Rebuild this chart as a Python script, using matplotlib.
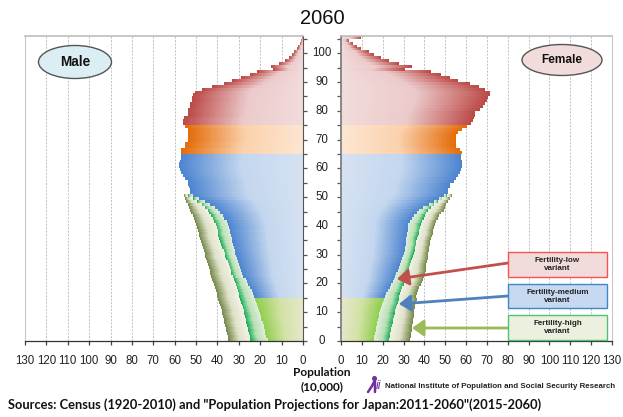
import matplotlib
matplotlib.use('Agg')
import matplotlib.pyplot as plt
import numpy as np
from matplotlib.colors import LinearSegmentedColormap
from matplotlib.patches import Ellipse, FancyArrowPatch, Rectangle

W, H = 623, 417

# population by age (10,000), index = age
male_low = [17, 17.3, 17.6, 18, 18.4, 18.8, 19.2, 19.6, 20, 20.4, 20.8, 21.2, 21.7, 22.2, 22.6,
            23, 23.6, 24.2, 24.9, 25.7, 26.5, 27.2, 27.9, 28.5, 29, 29.5, 30, 30.5, 31, 31.5,
            32, 32.3, 32.6, 32.9, 33.2, 33.5, 33.8, 34.2, 34.5, 34.8, 35, 35.8, 36.8, 38, 39,
            40, 41.5, 43.5, 46, 49, 52,
            53, 53, 53.5, 54, 54, 55, 56, 57, 57.5, 58, 58, 57.5, 57, 57,
            57, 57, 55, 55, 54, 54, 54, 54, 54, 55,
            56, 56, 55.5, 54, 54, 54, 53, 53, 52, 52, 51.5, 50.7, 47, 42.6, 37,
            33, 29, 25, 21.5, 14.2, 14.8, 11, 8.5, 6.5, 5, 4, 3, 2.3, 1.5, 1, 0.5]
male_medium = [25, 25.2, 25.5, 25.8, 26.1, 26.4, 26.7, 27, 27.3, 27.7, 28, 28.4, 28.8, 29.2, 29.6,
               30, 30.4, 30.8, 31.2, 31.6, 32, 32.5, 33, 33.5, 34, 34.4, 34.9, 35.4, 35.9, 36.4,
               37, 37.5, 38, 38.4, 38.8, 39.2, 39.6, 40, 40.3, 40.6, 41, 41.7, 42.4, 43.2, 44,
               45, 46.2, 47.5, 49.5, 51.5, 54]
male_high = [35, 35.3, 35.6, 35.9, 36.2, 36.5, 36.8, 37.1, 37.4, 37.7, 38, 38.4, 38.8, 39.2, 39.6,
             40, 40.4, 40.8, 41.2, 41.6, 42, 42.4, 42.9, 43.3, 43.7, 44, 44.4, 44.8, 45.2, 45.6,
             46, 46.4, 46.8, 47.2, 47.6, 48, 48.4, 48.8, 49.2, 49.6, 50, 50.5, 51, 51.6, 52.3,
             53, 53.5, 54, 54.6, 55.2, 55.7]
female_low = [15.7, 16, 16.3, 16.6, 16.9, 17.2, 17.5, 17.8, 18.1, 18.4, 18.7, 19.1, 19.5, 20, 20.5,
              21, 21.8, 22.6, 23.4, 24.2, 25, 25.5, 26, 26.6, 27.2, 27.8, 28.3, 28.8, 29.4, 29.9,
              30.4, 30.6, 30.8, 31, 31.2, 31.4, 31.6, 31.8, 32, 32.2, 32.3, 33, 34, 35.2, 36.4,
              37.6, 39.5, 42, 44.5, 47, 49.6,
              51, 51, 52, 52, 54, 55, 56, 57, 57.5, 58, 58, 58, 57.5, 57.5,
              58, 57, 55, 55, 55, 55, 55, 56, 58, 60,
              62, 63, 63.5, 64, 64, 66.5, 68, 69, 70, 70.5, 71, 71, 69, 66, 61.5,
              56, 52, 47.5, 42.7, 30.7, 34, 27.5, 23, 19, 15.5, 13, 9.5, 7.5, 5.5, 3.8, 9.4]
female_medium = [23, 23.3, 23.6, 23.9, 24.2, 24.5, 24.8, 25.1, 25.4, 25.7, 26, 26.4, 26.8, 27.2, 27.6,
                 28, 28.5, 29, 29.5, 30.1, 30.7, 31.2, 31.6, 32, 32.4, 32.8, 33.2, 33.6, 34, 34.5,
                 35, 35.3, 35.6, 35.9, 36.2, 36.5, 36.8, 37.2, 37.6, 38, 38.4, 39, 39.6, 40.2, 40.9,
                 41.6, 43, 44.6, 46.4, 48.6, 51]
female_high = [33, 33.2, 33.4, 33.6, 33.8, 34, 34.2, 34.4, 34.6, 34.8, 35, 35.2, 35.4, 35.6, 35.8,
               36, 36.5, 37, 37.6, 38.2, 38.7, 39.1, 39.4, 39.8, 40.2, 40.5, 40.8, 41, 41.2, 41.4,
               41.6, 41.9, 42.2, 42.5, 42.8, 43, 43.3, 43.6, 44, 44.4, 44.8, 45.4, 46, 46.8, 47.8,
               48.8, 49.5, 50.2, 51, 52, 53]

x_ticks = np.arange(0, 131, 10)
y_ticks = np.arange(0, 106, 5)
y_labels = np.arange(0, 101, 10)

LIGHT_GREEN = LinearSegmentedColormap.from_list('g', [(0, '#e6e8cc'), (0.5, '#d3e2a6'), (1, '#90cf4e')])
BLUE = LinearSegmentedColormap.from_list('b', [(0, '#d6e2f2'), (0.5, '#c4d7ef'), (1, '#4d85d0')])
ORANGE = LinearSegmentedColormap.from_list('o', [(0, '#fde6d2'), (0.5, '#fbd2ad'), (1, '#e46c0a')])
RED = LinearSegmentedColormap.from_list('r', [(0, '#f2dcdc'), (0.5, '#eccaca'), (1, '#bc4a48')])
MEDIUM = LinearSegmentedColormap.from_list('m', [(0, '#e0eeda'), (0.55, '#b8e0b5'), (1, '#14ad55')])
HIGH = LinearSegmentedColormap.from_list('h', [(0, '#f2f2e6'), (0.5, '#dfe2c8'), (1, '#74894a')])
GRAD = np.linspace(0, 1, 100).reshape(1, -1)


def age_cmap(age):
    if age < 15:
        return LIGHT_GREEN
    if age < 65:
        return BLUE
    if age < 75:
        return ORANGE
    return RED


def draw_side(ax, low, medium, high):
    for age, val in enumerate(low):
        ax.imshow(GRAD, cmap=age_cmap(age), extent=(0, val, age, age + 1), aspect='auto', vmin=0, vmax=1,
                  interpolation='nearest', zorder=2)
    for age in range(len(medium)):
        ax.imshow(GRAD, cmap=MEDIUM, extent=(low[age], medium[age], age, age + 1), aspect='auto', vmin=0, vmax=1,
                  interpolation='nearest', zorder=2)
        ax.imshow(GRAD, cmap=HIGH, extent=(medium[age], high[age], age, age + 1), aspect='auto', vmin=0, vmax=1,
                  interpolation='nearest', zorder=2)
    ax.set_ylim(0, 106)
    ax.set_xticks(x_ticks)
    ax.set_yticks(y_ticks)
    ax.set_yticklabels([])
    ax.grid(axis='x', color='#c0c0c0', linestyle=(0, (2, 1.5)), linewidth=0.7, zorder=1)
    ax.set_axisbelow(True)
    ax.tick_params(axis='x', length=3, width=0.9, color='#404040', labelsize=8.3, labelcolor='#222222', pad=7)
    ax.tick_params(axis='y', length=3, width=0.9, color='#555555')
    ax.spines['top'].set_color('#bdbdbd')
    ax.spines['top'].set_linewidth(1.2)
    ax.spines['bottom'].set_color('#333333')
    ax.spines['bottom'].set_linewidth(0.9)


plt.rcParams['font.family'] = ['Liberation Sans', 'DejaVu Sans']
fig = plt.figure(figsize=(W / 100, H / 100), dpi=100)
fig.patch.set_facecolor('white')

ax_m = fig.add_axes([25 / W, 1 - 341 / H, 278 / W, 305 / H])
ax_f = fig.add_axes([341 / W, 1 - 341 / H, 271 / W, 305 / H])

draw_side(ax_m, male_low, male_medium, male_high)
draw_side(ax_f, female_low, female_medium, female_high)

ax_m.set_xlim(130, 0)
ax_m.yaxis.tick_right()
ax_m.spines['left'].set_color('#c8c8c8')
ax_m.spines['right'].set_color('#555555')
ax_f.set_xlim(0, 130)
ax_f.spines['right'].set_color('#c8c8c8')
ax_f.spines['left'].set_color('#777777')
ax_f.spines['left'].set_linewidth(1.2)

# overlay in pixel coordinates for labels and call-outs
ov = fig.add_axes([0, 0, 1, 1])
ov.set_xlim(0, W)
ov.set_ylim(H, 0)
ov.axis('off')
ov.patch.set_alpha(0)

for v in y_labels:
    ov.text(322, 341 - v * 2.877, str(v), ha='center', va='center', fontsize=8.3, color='#222222')

ov.text(322, 18, '2060', ha='center', va='center', fontsize=14.5, color='#111111')

ov.add_patch(Ellipse((75, 62), 73, 33, facecolor='#dbeef4', edgecolor='#555555', linewidth=1))
ov.text(75, 62, 'Male', ha='center', va='center', fontsize=9.8, fontweight='bold', color='#111111')
ov.add_patch(Ellipse((562, 60), 80, 31, facecolor='#f2dcdb', edgecolor='#555555', linewidth=1))
ov.text(562, 60, 'Female', ha='center', va='center', fontsize=8.6, fontweight='bold', color='#111111')

boxes = [(252, '#f2dcdb', '#ff5050', 'Fertility-low\nvariant'),
         (283.5, '#c6d9f1', '#3f87c7', 'Fertility-medium\nvariant'),
         (315, '#ebf1de', '#4fc27a', 'Fertility-high\nvariant')]
for top, face, edge, label in boxes:
    ov.add_patch(Rectangle((508, top), 99, 24.5, facecolor=face, edgecolor=edge, linewidth=1, zorder=4))
    ov.text(557.5, top + 12.5, label, ha='center', va='center', fontsize=5.8, fontweight='bold',
            color='#222222', linespacing=1.2, zorder=5)

arrows = [((508, 263), (397, 279), '#c0504d'),
          ((508, 296), (399, 304), '#4f81bd'),
          ((508, 328), (412, 328), '#9bbb59')]
for start, end, col in arrows:
    ov.add_patch(FancyArrowPatch(start, end, arrowstyle='-|>,head_length=5,head_width=3.5', mutation_scale=1.4,
                                 color=col, linewidth=2, zorder=3, shrinkA=0, shrinkB=0))

ov.text(322, 372, 'Population', ha='center', va='center', fontsize=8.6, fontweight='bold',
        family=['Lato', 'DejaVu Sans'], color='#111111')
ov.text(322, 387, '(10,000)', ha='center', va='center', fontsize=8.6, fontweight='bold',
        family=['Lato', 'DejaVu Sans'], color='#111111')

# institute logo
ov.plot([368, 372, 375, 375], [392, 386, 380, 392], color='#7030a0', linewidth=1.8, solid_capstyle='round')
ov.plot([374], [378], marker='o', markersize=2.6, color='#7030a0')
ov.text(376, 386, 'ii', ha='left', va='center', fontsize=9, style='italic', color='#7030a0')
ov.text(385, 386, 'National Institute of Population and Social Security Research', ha='left', va='center',
        fontsize=5.7, fontweight='bold', color='#222222')
ov.text(8, 405, 'Sources: Census (1920-2010) and "Population Projections for Japan:2011-2060"(2015-2060)',
        ha='left', va='center', fontsize=9.3, fontweight='bold', family=['Lato', 'DejaVu Sans'], color='#111111')

fig.savefig('out.png', dpi=100)
